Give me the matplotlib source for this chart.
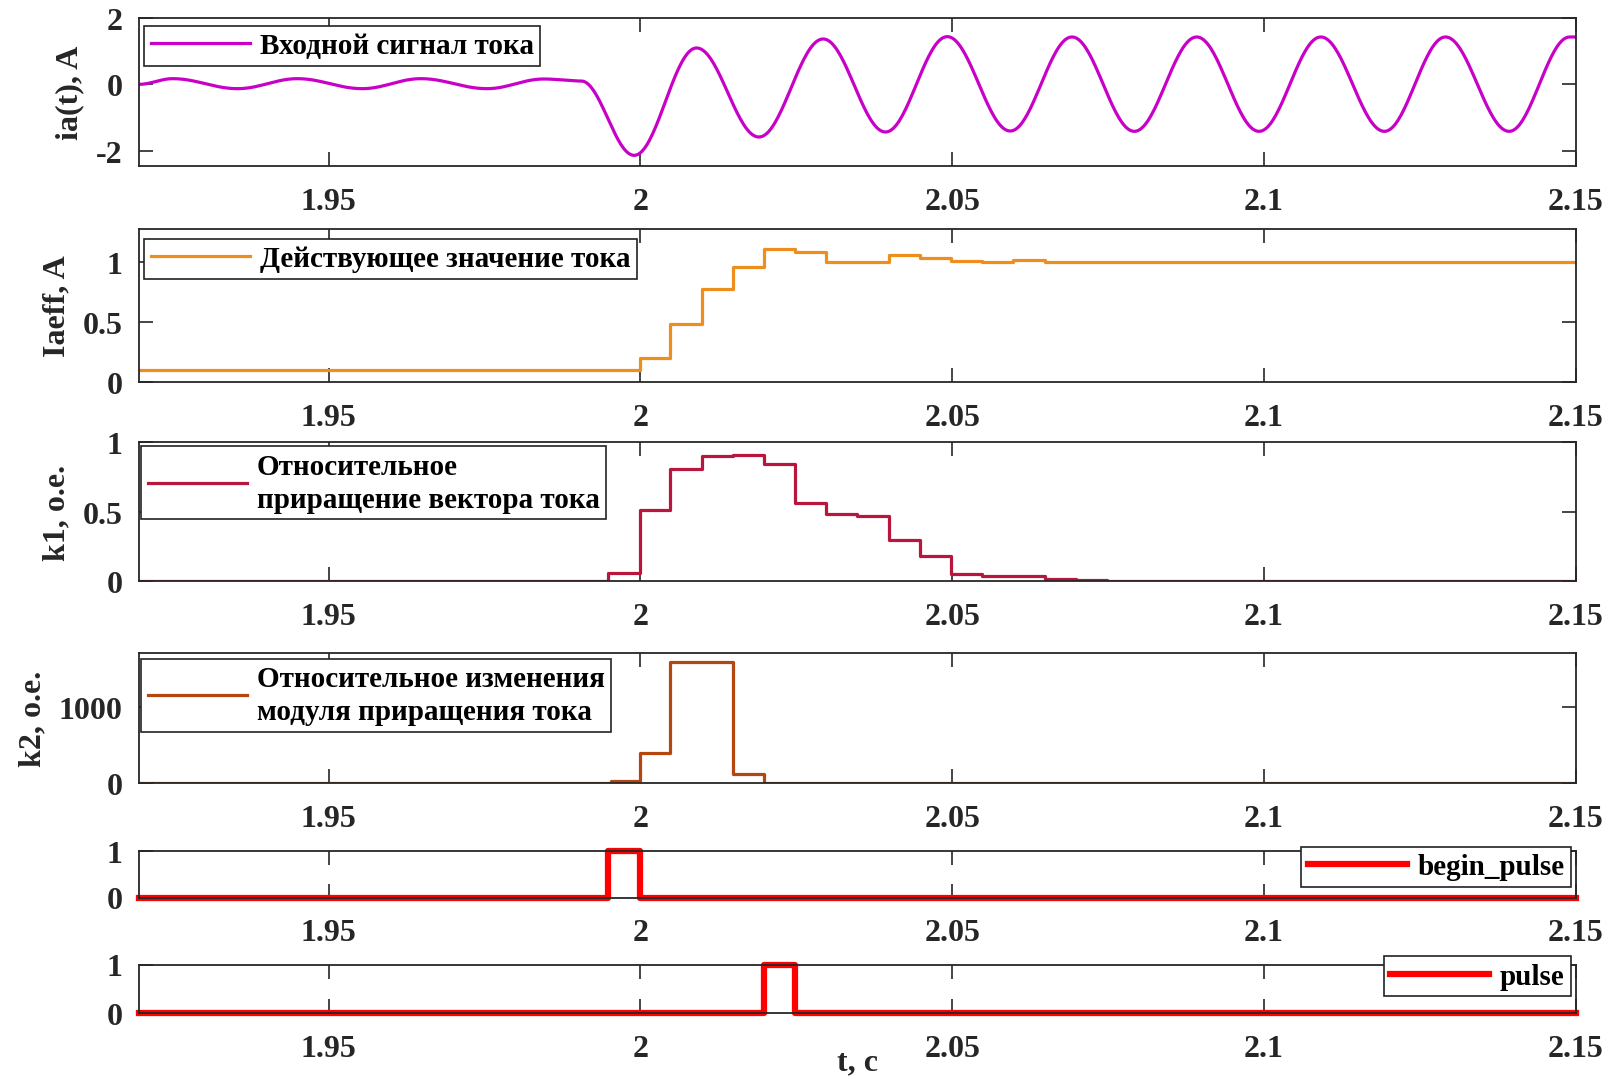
import numpy as np
import matplotlib
matplotlib.use("Agg")
import matplotlib.pyplot as plt

plt.rcParams['font.family'] = ['Liberation Serif', 'DejaVu Serif']
plt.rcParams['font.weight'] = 'bold'
plt.rcParams['axes.labelweight'] = 'bold'

# ---------------- data ----------------
XLIM = (1.9196, 2.15)
x_ticks = [1.95, 2.0, 2.05, 2.1, 2.15]
x_ticklabels = ['1.95', '2', '2.05', '2.1', '2.15']

# ia(t): extrema of the current waveform (time, value)
ia_t = [1.9196, 1.9250, 1.9354, 1.9450, 1.9554, 1.9648, 1.9754, 1.9845, 1.9905,
        1.9990, 2.0090, 2.0190, 2.0293, 2.0393, 2.0492, 2.0593, 2.0692, 2.0792,
        2.0892, 2.0992, 2.1091, 2.1193, 2.1291, 2.1393, 2.1490, 2.1500]
ia_v = [0.00, 0.17, -0.13, 0.17, -0.13, 0.17, -0.13, 0.16, 0.10,
        -2.13, 1.09, -1.58, 1.36, -1.43, 1.43, -1.40, 1.42, -1.41,
        1.42, -1.41, 1.42, -1.41, 1.42, -1.41, 1.42, 1.42]

# Iaeff: effective value (step changes)
eff_t = [1.9196, 2.0000, 2.0048, 2.0098, 2.0148, 2.0198, 2.0248, 2.0298, 2.0348,
         2.0398, 2.0448, 2.0498, 2.0548, 2.0598, 2.0648, 2.1500]
eff_v = [0.10, 0.20, 0.49, 0.78, 0.96, 1.11, 1.09, 1.00, 1.00,
         1.06, 1.04, 1.01, 1.00, 1.02, 1.00, 1.00]

# k1
k1_t = [1.9196, 1.9948, 2.0000, 2.0048, 2.0098, 2.0148, 2.0198, 2.0248, 2.0298,
        2.0348, 2.0398, 2.0448, 2.0498, 2.0548, 2.0598, 2.0648, 2.0698, 2.0748, 2.1500]
k1_v = [0.0, 0.06, 0.51, 0.81, 0.90, 0.91, 0.84, 0.56, 0.48,
        0.47, 0.30, 0.18, 0.05, 0.035, 0.035, 0.017, 0.008, 0.003, 0.0]

# k2
k2_t = [1.9196, 1.9952, 2.0000, 2.0048, 2.0148, 2.0198, 2.1500]
k2_v = [0, 25, 390, 1585, 125, 0, 0]

# pulses
bp_t = [1.9196, 1.9948, 2.0000, 2.1500]
bp_v = [0, 1, 0, 0]
p_t = [1.9196, 2.0198, 2.0248, 2.1500]
p_v = [0, 1, 0, 0]

labels = ['Входной сигнал тока', 'Действующее значение тока',
          'Относительное\nприращение вектора тока',
          'Относительное изменения\nмодуля приращения тока',
          'begin_pulse', 'pulse']
ylabels = ['ia(t), A', 'Iaeff, A', 'k1, о.е.', 'k2, о.е.', '', '']
colors = ['#C800C8', '#EE8E1C', '#B8163C', '#B5460F', '#FF0000', '#FF0000']

# --------------- figure ----------------
fig = plt.figure(figsize=(16.15, 10.829), dpi=100)

def fr(xs, ys):  # reference pixel (as displayed 1568x1051) -> figure fraction
    return xs / 1568, 1 - ys / 1051

L, R = 135, 1530
boxes = [(18, 162), (223, 372), (430, 565), (635, 761), (827, 872), (937, 984)]
axes = []
for top, bot in boxes:
    x0, y0 = fr(L, bot)
    x1, y1 = fr(R, top)
    axes.append(fig.add_axes([x0, y0, x1 - x0, y1 - y0]))

# smooth waveform between read extrema
def wave(ts, vs, n=40):
    T, V = [], []
    for i in range(len(ts) - 1):
        s = np.linspace(0, 1, n, endpoint=False)
        T.append(ts[i] + (ts[i + 1] - ts[i]) * s)
        V.append(vs[i] + (vs[i + 1] - vs[i]) * (1 - np.cos(np.pi * s)) / 2)
    T.append([ts[-1]]); V.append([vs[-1]])
    return np.concatenate(T), np.concatenate(V)

wt, wv = wave(ia_t, ia_v)
ln = []
ln.append(axes[0].plot(wt, wv, color=colors[0], lw=2.3)[0])
ln.append(axes[1].step(eff_t, eff_v, where='post', color=colors[1], lw=2.3)[0])
ln.append(axes[2].step(k1_t, k1_v, where='post', color=colors[2], lw=2.3)[0])
ln.append(axes[3].step(k2_t, k2_v, where='post', color=colors[3], lw=2.3)[0])
ln.append(axes[4].step(bp_t, bp_v, where='post', color=colors[4], lw=4.5, clip_on=False)[0])
ln.append(axes[5].step(p_t, p_v, where='post', color=colors[5], lw=4.5, clip_on=False)[0])

ylims = [(-2.45, 2.0), (0, 1.28), (0, 1.0), (0, 1700), (0, 1), (0, 1)]
yticks = [[-2, 0, 2], [0, 0.5, 1], [0, 0.5, 1], [0, 1000], [0, 1], [0, 1]]
yticklabels = [['-2', '0', '2'], ['0', '0.5', '1'], ['0', '0.5', '1'],
               ['0', '1000'], ['0', '1'], ['0', '1']]

tc = '#262626'
for i, ax in enumerate(axes):
    ax.set_xlim(*XLIM)
    ax.set_ylim(*ylims[i])
    ax.set_xticks(x_ticks)
    ax.set_xticklabels(x_ticklabels)
    ax.set_yticks(yticks[i])
    ax.set_yticklabels(yticklabels[i])
    ax.tick_params(axis='both', direction='in', length=10, width=1.2, colors=tc,
                   labelsize=23, top=True, right=True)
    ax.tick_params(axis='x', pad=15)
    ax.tick_params(axis='y', pad=12)
    for lab in ax.get_xticklabels() + ax.get_yticklabels():
        lab.set_fontweight('bold')
    for sp in ax.spines.values():
        sp.set_color(tc)
        sp.set_linewidth(1.3)
    if ylabels[i]:
        ax.set_ylabel(ylabels[i], fontsize=23, color=tc, labelpad=8)

axes[5].set_xlabel('t, с', fontsize=23, color=tc)
axes[5].xaxis.set_label_coords(0.5, -0.72)

# legends: (x_left/right, y_top) in displayed reference pixels
leg_pos = [(140, 26, 'upper left'), (140, 233, 'upper left'), (137, 434, 'upper left'),
           (137, 640, 'upper left'), (1525, 823, 'upper right'), (1525, 929, 'upper right')]
for i, ax in enumerate(axes):
    x, y, loc = leg_pos[i]
    leg = ax.legend([ln[i]], [labels[i]], loc=loc, bbox_to_anchor=fr(x, y),
                    bbox_transform=fig.transFigure, borderaxespad=0,
                    fancybox=False, framealpha=1, edgecolor='#222222',
                    prop={'size': 21, 'weight': 'bold'}, handlelength=3.4,
                    handletextpad=0.35, borderpad=0.22)
    leg.get_frame().set_linewidth(1.2)
    for t in leg.get_texts():
        t.set_linespacing(1.3)
    leg.set_zorder(10)

fig.savefig('out.png', dpi=100)
